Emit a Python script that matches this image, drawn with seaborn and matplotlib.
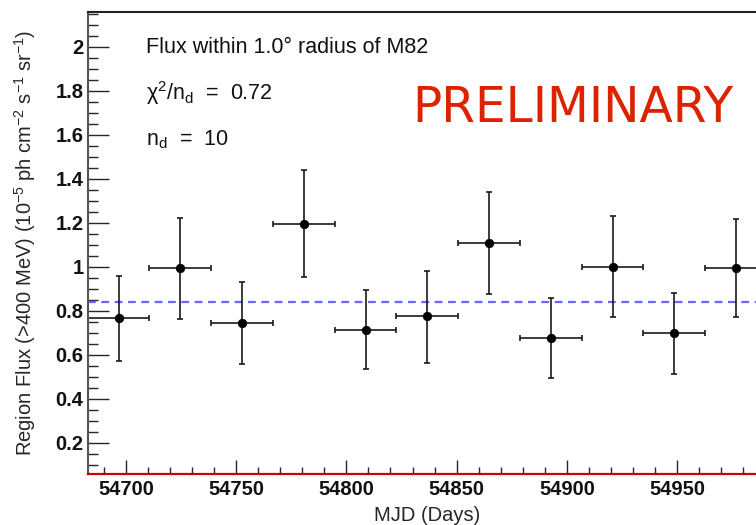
import matplotlib
matplotlib.use('Agg')
import matplotlib.pyplot as plt
import seaborn as sns
import pandas as pd
from matplotlib.ticker import MultipleLocator

# --- data ---
mjd = [54696.7, 54724.7, 54752.7, 54780.7, 54808.7, 54836.7,
       54864.7, 54892.7, 54920.7, 54948.7, 54976.7]
flux = [0.765, 0.993, 0.744, 1.195, 0.712, 0.775,
        1.108, 0.677, 0.997, 0.699, 0.993]
flux_hi = [0.956, 1.220, 0.932, 1.438, 0.895, 0.982,
           1.340, 0.856, 1.230, 0.880, 1.215]
flux_lo = [0.573, 0.764, 0.558, 0.952, 0.536, 0.564,
           0.876, 0.495, 0.770, 0.512, 0.770]
bin_half = 14.0
mean_flux = 0.841
x_range = (54682.7, 54990.7)
y_range = (0.058, 2.156)

df = pd.DataFrame({'MJD': mjd, 'Flux': flux, 'hi': flux_hi, 'lo': flux_lo})

sns.set_theme(style='ticks')
plt.rcParams['font.family'] = ['Liberation Sans', 'DejaVu Sans']
plt.rcParams['mathtext.default'] = 'regular'
plt.rcParams['text.color'] = '#111111'

fig = plt.figure(figsize=(7.56, 5.25), dpi=100)
ax = fig.add_axes([0.116, 0.0971, 0.8985, 0.8794])

ax.errorbar(df['MJD'], df['Flux'],
            yerr=[df['Flux'] - df['lo'], df['hi'] - df['Flux']],
            xerr=bin_half, fmt='none', ecolor='#1a1a1a', elinewidth=1.2,
            capsize=2, capthick=1.2, zorder=2)
sns.scatterplot(data=df, x='MJD', y='Flux', ax=ax, color='black', s=38,
                edgecolor='black', zorder=3, legend=False)
ax.axhline(mean_flux, color='#6666ff', lw=1.6, dashes=(3.5, 2.5), zorder=1)

ax.set_xlim(*x_range)
ax.set_ylim(*y_range)
ax.xaxis.set_major_locator(MultipleLocator(50))
ax.xaxis.set_minor_locator(MultipleLocator(10))
ax.yaxis.set_major_locator(MultipleLocator(0.2))
ax.yaxis.set_minor_locator(MultipleLocator(0.05))
ax.yaxis.set_major_formatter(lambda v, p: f'{v:g}')

ax.tick_params(axis='x', which='major', direction='in', length=10, width=1, pad=4,
               labelsize=14.5, labelcolor='#111111', top=False)
ax.tick_params(axis='x', which='minor', direction='in', length=5, width=1, top=False)
ax.tick_params(axis='y', which='major', direction='in', length=15, width=1, pad=3,
               labelsize=14.5, labelcolor='#111111', right=False)
ax.tick_params(axis='y', which='minor', direction='in', length=7.5, width=1, right=False)
for lab in ax.get_xticklabels() + ax.get_yticklabels():
    lab.set_fontweight('bold')

ax.spines['left'].set_color('#555555')
ax.spines['left'].set_linewidth(1.5)
ax.spines['top'].set_color('#222222')
ax.spines['top'].set_linewidth(1.5)
ax.spines['bottom'].set_color('#cc0000')
ax.spines['bottom'].set_linewidth(1.6)

ax.set_xlabel('MJD (Days)', fontsize=14.5, va='center')
ax.xaxis.set_label_coords(0.5, -0.089)
ax.set_ylabel('Region Flux (>400 MeV) (10$^{-5}$ ph cm$^{-2}$ s$^{-1}$ sr$^{-1}$)',
              fontsize=14.5, va='center')
ax.yaxis.set_label_coords(-0.0923, 0.5)

fig.text(0.193, 0.899, 'Flux within 1.0\u00b0 radius of M82', fontsize=15.5)
fig.text(0.193, 0.8095, '$\\chi^2/n_d$  =  0.72', fontsize=15.5)
fig.text(0.193, 0.724, '$n_d$  =  10', fontsize=15.5)
fig.text(0.5447, 0.768, 'PRELIMINARY', fontsize=35, color='#dd2200',
         family='DejaVu Sans')

fig.savefig('out.png', dpi=100)
